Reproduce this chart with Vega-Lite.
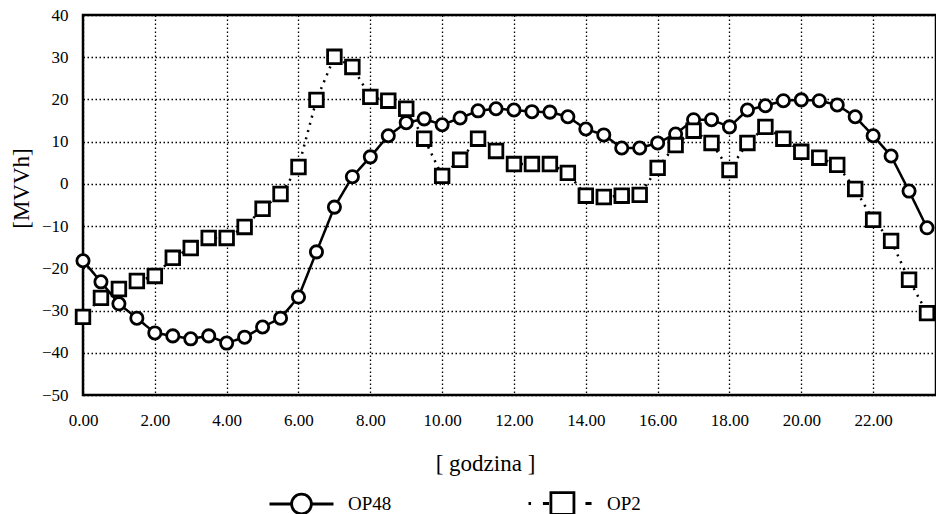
{
  "$schema": "https://vega.github.io/schema/vega-lite/v6.json",
  "autosize": "none",
  "width": 853,
  "height": 380,
  "padding": {"left": 83, "top": 15, "right": 0, "bottom": 119},
  "background": "white",
  "config": {
    "font": "Liberation Serif, DejaVu Serif, serif",
    "view": {"stroke": "black", "strokeWidth": 2.5}
  },
  "datasets": {
    "rows": [
      {"h": 0.0, "series": "OP48", "v": -18.2}, {"h": 0.5, "series": "OP48", "v": -23.2},
      {"h": 1.0, "series": "OP48", "v": -28.4}, {"h": 1.5, "series": "OP48", "v": -31.8},
      {"h": 2.0, "series": "OP48", "v": -35.3}, {"h": 2.5, "series": "OP48", "v": -36.0},
      {"h": 3.0, "series": "OP48", "v": -36.7}, {"h": 3.5, "series": "OP48", "v": -36.0},
      {"h": 4.0, "series": "OP48", "v": -37.7}, {"h": 4.5, "series": "OP48", "v": -36.3},
      {"h": 5.0, "series": "OP48", "v": -33.9}, {"h": 5.5, "series": "OP48", "v": -31.8},
      {"h": 6.0, "series": "OP48", "v": -26.8}, {"h": 6.5, "series": "OP48", "v": -16.1},
      {"h": 7.0, "series": "OP48", "v": -5.5}, {"h": 7.5, "series": "OP48", "v": 1.7},
      {"h": 8.0, "series": "OP48", "v": 6.4}, {"h": 8.5, "series": "OP48", "v": 11.4},
      {"h": 9.0, "series": "OP48", "v": 14.5}, {"h": 9.5, "series": "OP48", "v": 15.4},
      {"h": 10.0, "series": "OP48", "v": 14.0}, {"h": 10.5, "series": "OP48", "v": 15.6},
      {"h": 11.0, "series": "OP48", "v": 17.3}, {"h": 11.5, "series": "OP48", "v": 17.8},
      {"h": 12.0, "series": "OP48", "v": 17.5}, {"h": 12.5, "series": "OP48", "v": 17.1},
      {"h": 13.0, "series": "OP48", "v": 17.0}, {"h": 13.5, "series": "OP48", "v": 15.9},
      {"h": 14.0, "series": "OP48", "v": 13.0}, {"h": 14.5, "series": "OP48", "v": 11.6},
      {"h": 15.0, "series": "OP48", "v": 8.5}, {"h": 15.5, "series": "OP48", "v": 8.5},
      {"h": 16.0, "series": "OP48", "v": 9.7}, {"h": 16.5, "series": "OP48", "v": 11.8},
      {"h": 17.0, "series": "OP48", "v": 15.2}, {"h": 17.5, "series": "OP48", "v": 15.2},
      {"h": 18.0, "series": "OP48", "v": 13.5}, {"h": 18.5, "series": "OP48", "v": 17.5},
      {"h": 19.0, "series": "OP48", "v": 18.5}, {"h": 19.5, "series": "OP48", "v": 19.7},
      {"h": 20.0, "series": "OP48", "v": 19.9}, {"h": 20.5, "series": "OP48", "v": 19.7},
      {"h": 21.0, "series": "OP48", "v": 18.7}, {"h": 21.5, "series": "OP48", "v": 15.9},
      {"h": 22.0, "series": "OP48", "v": 11.4}, {"h": 22.5, "series": "OP48", "v": 6.6},
      {"h": 23.0, "series": "OP48", "v": -1.7}, {"h": 23.5, "series": "OP48", "v": -10.4},
      {"h": 0.0, "series": "OP2", "v": -31.5}, {"h": 0.5, "series": "OP2", "v": -27.0},
      {"h": 1.0, "series": "OP2", "v": -24.9}, {"h": 1.5, "series": "OP2", "v": -23.0},
      {"h": 2.0, "series": "OP2", "v": -21.8}, {"h": 2.5, "series": "OP2", "v": -17.5},
      {"h": 3.0, "series": "OP2", "v": -15.2}, {"h": 3.5, "series": "OP2", "v": -12.8},
      {"h": 4.0, "series": "OP2", "v": -12.8}, {"h": 4.5, "series": "OP2", "v": -10.2},
      {"h": 5.0, "series": "OP2", "v": -5.9}, {"h": 5.5, "series": "OP2", "v": -2.4},
      {"h": 6.0, "series": "OP2", "v": 4.0}, {"h": 6.5, "series": "OP2", "v": 19.9},
      {"h": 7.0, "series": "OP2", "v": 30.1}, {"h": 7.5, "series": "OP2", "v": 27.7},
      {"h": 8.0, "series": "OP2", "v": 20.6}, {"h": 8.5, "series": "OP2", "v": 19.7},
      {"h": 9.0, "series": "OP2", "v": 17.8}, {"h": 9.5, "series": "OP2", "v": 10.7},
      {"h": 10.0, "series": "OP2", "v": 1.9}, {"h": 10.5, "series": "OP2", "v": 5.7},
      {"h": 11.0, "series": "OP2", "v": 10.7}, {"h": 11.5, "series": "OP2", "v": 7.8},
      {"h": 12.0, "series": "OP2", "v": 4.7}, {"h": 12.5, "series": "OP2", "v": 4.7},
      {"h": 13.0, "series": "OP2", "v": 4.7}, {"h": 13.5, "series": "OP2", "v": 2.6},
      {"h": 14.0, "series": "OP2", "v": -2.8}, {"h": 14.5, "series": "OP2", "v": -3.1},
      {"h": 15.0, "series": "OP2", "v": -2.8}, {"h": 15.5, "series": "OP2", "v": -2.6},
      {"h": 16.0, "series": "OP2", "v": 3.8}, {"h": 16.5, "series": "OP2", "v": 9.2},
      {"h": 17.0, "series": "OP2", "v": 12.6}, {"h": 17.5, "series": "OP2", "v": 9.7},
      {"h": 18.0, "series": "OP2", "v": 3.3}, {"h": 18.5, "series": "OP2", "v": 9.7},
      {"h": 19.0, "series": "OP2", "v": 13.5}, {"h": 19.5, "series": "OP2", "v": 10.7},
      {"h": 20.0, "series": "OP2", "v": 7.6}, {"h": 20.5, "series": "OP2", "v": 6.2},
      {"h": 21.0, "series": "OP2", "v": 4.5}, {"h": 21.5, "series": "OP2", "v": -1.2},
      {"h": 22.0, "series": "OP2", "v": -8.5}, {"h": 22.5, "series": "OP2", "v": -13.5},
      {"h": 23.0, "series": "OP2", "v": -22.7}, {"h": 23.5, "series": "OP2", "v": -30.6}
    ]
  },
  "data": {"name": "rows"},
  "encoding": {
    "x": {
      "field": "h", "type": "quantitative",
      "scale": {"domain": [0, 23.75], "nice": false, "zero": false},
      "axis": {
        "values": [0, 2, 4, 6, 8, 10, 12, 14, 16, 18, 20, 22],
        "format": ".2f",
        "labelFlush": false,
        "domain": false, "ticks": false,
        "grid": true, "gridColor": "black", "gridDash": [1.5, 2.5], "gridWidth": 1.3, "gridOpacity": 1,
        "labelFont": "Liberation Serif, DejaVu Serif, serif", "labelFontSize": 17, "labelColor": "black", "labelPadding": 17,
        "title": "[ godzina ]", "titleFont": "Liberation Serif, DejaVu Serif, serif", "titleFontSize": 23, "titleFontWeight": "normal",
        "titleColor": "black", "titleX": 402, "titleAlign": "center", "titleY": 75, "titleBaseline": "alphabetic"
      }
    },
    "y": {
      "field": "v", "type": "quantitative",
      "scale": {"domain": [-50, 40], "nice": false, "zero": false},
      "axis": {
        "values": [-50, -40, -30, -20, -10, 0, 10, 20, 30, 40],
        "labelFlush": false,
        "domain": false, "ticks": false,
        "grid": true, "gridColor": "black", "gridDash": [1.5, 2.5], "gridWidth": 1.3, "gridOpacity": 1,
        "labelFont": "Liberation Serif, DejaVu Serif, serif", "labelFontSize": 17, "labelColor": "black", "labelPadding": 15,
        "title": "[MVVh]", "titleFont": "Liberation Serif, DejaVu Serif, serif", "titleFontSize": 23, "titleFontWeight": "normal",
        "titleColor": "black", "titleX": -62, "titleY": 173, "titleAlign": "center", "titleBaseline": "middle", "titleAngle": -90
      }
    }
  },
  "layer": [
    {
      "mark": {"type": "line", "color": "black", "strokeWidth": 2.5},
      "encoding": {
        "detail": {"field": "series"},
        "strokeDash": {
          "field": "series", "type": "nominal",
          "scale": {"domain": ["OP48", "OP2"], "range": [[1, 0], [2, 5.5]]},
          "legend": null
        }
      }
    },
    {
      "mark": {"type": "point", "filled": true, "fill": "white", "stroke": "black", "strokeWidth": 2.8, "opacity": 1},
      "encoding": {
        "shape": {
          "field": "series", "type": "nominal",
          "scale": {"domain": ["OP48", "OP2"], "range": ["circle", "square"]},
          "legend": null
        },
        "size": {
          "field": "series", "type": "nominal",
          "scale": {"domain": ["OP48", "OP2"], "range": [150, 185]},
          "legend": null
        }
      }
    },
    {
      "mark": {"type": "point", "filled": false, "stroke": "black", "strokeWidth": 2.5, "opacity": 0},
      "encoding": {
        "shape": {
          "field": "series", "type": "nominal",
          "scale": {
            "domain": ["OP48", "OP2"],
            "range": [
              "M-1,0H-0.31M0.31,0H1M0.31,0A0.31,0.31 0 1,1 -0.31,0A0.31,0.31 0 1,1 0.31,0Z",
              "M-1,0H-0.92M-0.55,0H-0.36M-0.3,-0.34H0.42V0.34H-0.3ZM0.78,0H0.97"
            ]
          },
          "legend": {
            "title": null,
            "orient": "none",
            "direction": "horizontal",
            "legendX": 185,
            "legendY": 455,
            "padding": 0,
            "symbolSize": 4096,
            "symbolStrokeWidth": 2.8,
            "symbolStrokeColor": "black",
            "symbolFillColor": "transparent",
            "symbolOpacity": 1,
            "labelFont": "Liberation Serif, DejaVu Serif, serif",
            "labelFontSize": 19,
            "labelColor": "black",
            "labelOffset": 13,
            "columnPadding": 130
          }
        }
      }
    }
  ],
  "resolve": {"scale": {"shape": "independent"}, "legend": {"shape": "independent"}}
}
